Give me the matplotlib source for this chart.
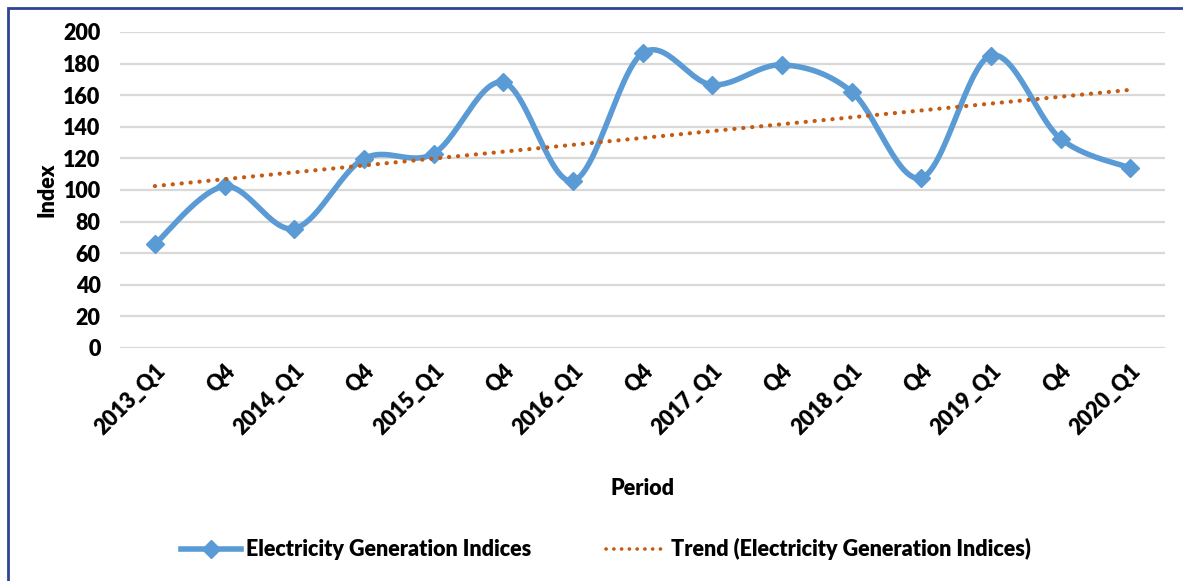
import numpy as np
import matplotlib.pyplot as plt
from matplotlib.patches import Rectangle
from matplotlib.lines import Line2D

periods = ['2013_Q1', 'Q4', '2014_Q1', 'Q4', '2015_Q1', 'Q4', '2016_Q1', 'Q4',
           '2017_Q1', 'Q4', '2018_Q1', 'Q4', '2019_Q1', 'Q4', '2020_Q1']
indices = [65.7, 102.3, 75.6, 119.8, 123.0, 168.2, 105.7, 186.6,
           166.6, 179.2, 162.3, 107.6, 185.1, 132.5, 113.9]

blue = '#5B9BD5'
orange = '#C55A11'
fs = 15.5

plt.rcParams['font.family'] = ['Lato', 'DejaVu Sans']
plt.rcParams['font.weight'] = 'heavy'


def smooth(x, y, n=30):
    # catmull-rom through the points, like excel's smoothed line
    x = np.asarray(x, float)
    y = np.asarray(y, float)
    px = np.concatenate([[x[0]], x, [x[-1]]])
    py = np.concatenate([[y[0]], y, [y[-1]]])
    xs, ys = [], []
    t = np.linspace(0, 1, n)
    for i in range(1, len(px) - 2):
        p0, p1, p2, p3 = (np.array([px[j], py[j]]) for j in range(i - 1, i + 3))
        c1 = p1 + (p2 - p0) / 6
        c2 = p2 - (p3 - p1) / 6
        b = ((1 - t) ** 3)[:, None] * p1 + (3 * (1 - t) ** 2 * t)[:, None] * c1 \
            + (3 * (1 - t) * t ** 2)[:, None] * c2 + (t ** 3)[:, None] * p2
        xs.append(b[:, 0])
        ys.append(b[:, 1])
    return np.concatenate(xs), np.concatenate(ys)


fig = plt.figure(figsize=(11.83, 5.81), dpi=100)
ax = fig.add_axes([120 / 1183, 1 - 348 / 581, 1045 / 1183, 316 / 581])

x = np.arange(len(indices))
sx, sy = smooth(x, indices)
ax.plot(sx, sy, color=blue, linewidth=4, solid_capstyle='round', zorder=3)
ax.plot(x, indices, linestyle='none', marker='D', markersize=9, color=blue, zorder=4)

coef = np.polyfit(x, indices, 1)
ax.plot(x, np.polyval(coef, x), color=orange, linewidth=3,
        linestyle=(0, (0.05, 2.1)), dash_capstyle='round', zorder=5)

ax.set_xlim(-0.5, len(indices) - 0.5)
ax.set_ylim(0, 200)
ax.set_yticks(range(0, 201, 20))
ax.set_xticks(x)
ax.set_xticklabels(periods, rotation=45, ha='right', rotation_mode='anchor')
ax.yaxis.grid(True, color='#D9D9D9', linewidth=1.6)
ax.set_axisbelow(True)
for s in ax.spines.values():
    s.set_visible(False)
ax.tick_params(length=0, labelsize=fs)
ax.tick_params(axis='y', pad=14)
ax.tick_params(axis='x', pad=9)

ax.set_ylabel('Index', fontsize=fs, fontweight='heavy', labelpad=4)
ax.set_xlabel('Period', fontsize=fs, fontweight='heavy', labelpad=28)

h1 = Line2D([], [], color=blue, linewidth=4, marker='D', markersize=9)
h2 = Line2D([], [], color=orange, linewidth=2.6, linestyle=(0, (0.05, 2.1)),
            dash_capstyle='round')
fig.legend([h1, h2], ['Electricity Generation Indices',
                      'Trend (Electricity Generation Indices)'],
           loc='center', bbox_to_anchor=(606 / 1183, 1 - 549 / 581), ncol=2,
           frameon=False, fontsize=fs, handlelength=2.8, columnspacing=3.5,
           handletextpad=0.2)

fig.patches.append(Rectangle((8 / 1183, -0.1), 1.2, 1 - 8 / 581 + 0.1,
                             transform=fig.transFigure, fill=False,
                             edgecolor='#2E4593', linewidth=2))

fig.savefig('out.png', dpi=100)
